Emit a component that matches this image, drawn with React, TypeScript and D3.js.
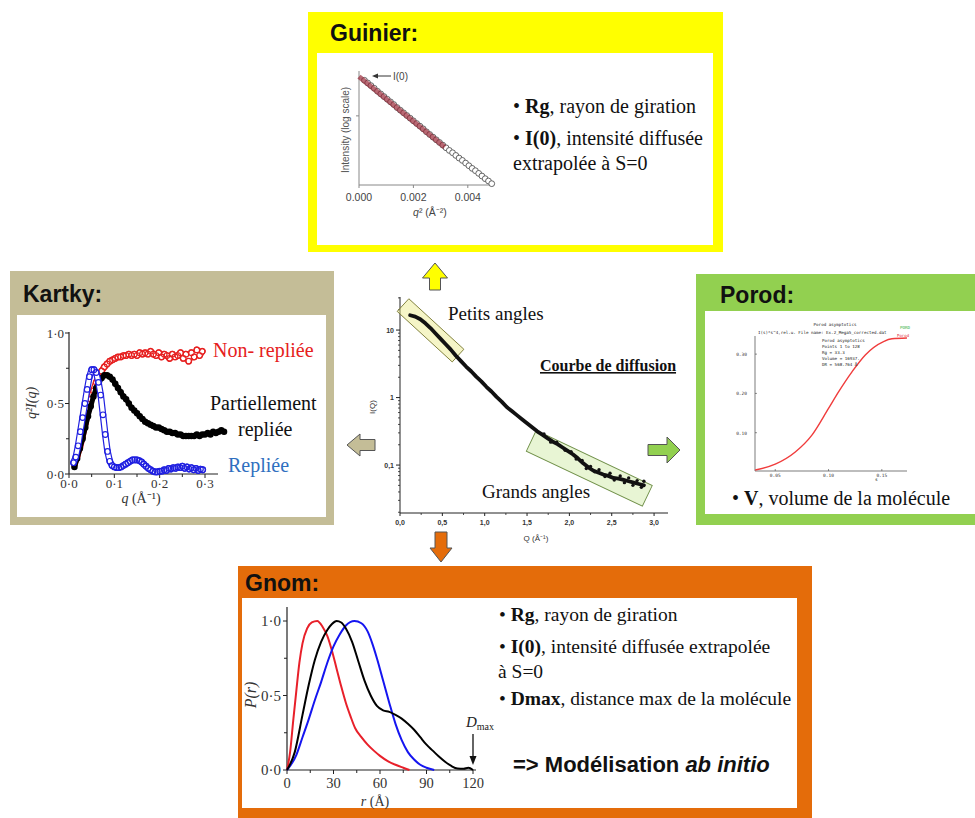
import React from 'react';
import * as d3 from 'd3';

// ---------------- DATA ----------------
// Guinier plot (q^2 vs ln I)
const guinierQ2 = [0.0002,0.00032,0.00044,0.00056,0.00068,0.0008,0.00092,0.00104,0.00116,0.00128,0.0014,0.00152,0.00164,0.00176,0.00188,0.002,0.00212,0.00224,0.00236,0.00248,0.0026,0.00272,0.00284,0.00296,0.00308,0.0032,0.00332,0.00344,0.00356,0.00368,0.0038,0.00392,0.00404,0.00416,0.00428,0.0044,0.00452,0.00464,0.00476,0.00488];
const guinierLnI = [-0.15,-0.23,-0.31,-0.39,-0.48,-0.56,-0.64,-0.72,-0.80,-0.88,-0.97,-1.05,-1.13,-1.21,-1.29,-1.37,-1.45,-1.53,-1.61,-1.70,-1.78,-1.86,-1.94,-2.02,-2.10,-2.18,-2.26,-2.33,-2.41,-2.49,-2.56,-2.64,-2.72,-2.80,-2.87,-2.95,-3.03,-3.11,-3.18,-3.26];
const guinierFitQ2 = [0, 0.00315];
const guinierFitLnI = [-0.04, -2.16];
const guinierXTicks = [0, 0.002, 0.004];
const guinierXTickLabels = ['0.000', '0.002', '0.004'];
const guinierYTicks = [-1.22];

// Kratky plot
const kratkyRedQ = d3.range(0.012, 0.2965, 0.006);
const kratkyRed = [0.07,0.13,0.19,0.27,0.36,0.45,0.53,0.59,0.65,0.69,0.73,0.76,0.78,0.80,0.81,0.82,0.83,0.83,0.84,0.84,0.85,0.84,0.85,0.84,0.86,0.85,0.86,0.85,0.87,0.85,0.84,0.86,0.83,0.85,0.84,0.82,0.85,0.83,0.84,0.86,0.82,0.85,0.80,0.86,0.83,0.88,0.84,0.87];
const kratkyBlackQ = d3.range(0.012, 0.3425, 0.006);
const kratkyBlack = [0.05,0.11,0.18,0.25,0.33,0.41,0.48,0.55,0.61,0.65,0.68,0.70,0.70,0.69,0.67,0.64,0.61,0.58,0.55,0.53,0.50,0.47,0.45,0.43,0.41,0.39,0.37,0.36,0.35,0.34,0.33,0.33,0.32,0.31,0.30,0.30,0.29,0.29,0.28,0.28,0.27,0.27,0.27,0.27,0.27,0.28,0.27,0.28,0.28,0.29,0.28,0.30,0.29,0.30,0.31,0.30];
const kratkyBlueQ = d3.range(0.010, 0.2955, 0.005);
const kratkyBlue = [0.08,0.12,0.20,0.30,0.40,0.50,0.60,0.69,0.74,0.74,0.72,0.65,0.56,0.42,0.28,0.16,0.09,0.06,0.05,0.045,0.045,0.05,0.06,0.07,0.08,0.09,0.10,0.10,0.10,0.095,0.085,0.07,0.055,0.04,0.03,0.02,0.015,0.015,0.02,0.02,0.03,0.025,0.04,0.035,0.045,0.04,0.05,0.045,0.055,0.04,0.05,0.035,0.045,0.03,0.04,0.025,0.035,0.03];
const kratkyXTicks = [0, 0.1, 0.2, 0.3];
const kratkyXTickLabels = ['0·0', '0·1', '0·2', '0·3'];
const kratkyYTicks = [0, 0.5, 1];
const kratkyYTickLabels = ['0·0', '0·5', '1·0'];

// Scattering curve (center)
const curveQ = d3.range(0.12, 2.881, 0.06);
const curveLogI = [1.22,1.20,1.16,1.10,1.03,0.95,0.87,0.79,0.71,0.62,0.54,0.46,0.39,0.31,0.24,0.16,0.09,0.01,-0.06,-0.14,-0.20,-0.26,-0.32,-0.38,-0.44,-0.50,-0.55,-0.60,-0.65,-0.69,-0.74,-0.79,-0.84,-0.90,-0.97,-1.03,-1.08,-1.11,-1.14,-1.16,-1.19,-1.20,-1.22,-1.24,-1.26,-1.28,-1.30];
const tailQ = [1.70,1.78,1.85,1.95,2.02,2.08,2.15,2.20,2.25,2.30,2.35,2.42,2.48,2.53,2.60,2.65,2.70,2.75,2.80,2.85,2.88];
const tailLogI = [-0.54,-0.66,-0.66,-0.78,-0.80,-0.91,-0.93,-1.05,-1.02,-1.10,-1.07,-1.17,-1.12,-1.22,-1.16,-1.26,-1.19,-1.30,-1.23,-1.33,-1.24];
const curveXTicks = [0, 0.5, 1, 1.5, 2, 2.5, 3];
const curveXTickLabels = ['0,0', '0,5', '1,0', '1,5', '2,0', '2,5', '3,0'];
const curveYTicks = [0.1, 1, 10];
const curveYTickLabels = ['0,1', '1', '10'];

// Porod
const porodS = [0.0312, 0.05, 0.0688, 0.0844, 0.1, 0.1094, 0.122, 0.1345, 0.1516, 0.1595, 0.1736];
const porodV = [0.005, 0.02, 0.051, 0.094, 0.162, 0.204, 0.255, 0.298, 0.332, 0.339, 0.341];
const porodXTicks = [0.05, 0.10, 0.15];
const porodXTickLabels = ['0.05', '0.10', '0.15'];
const porodYTicks = [0.10, 0.20, 0.30];
const porodYTickLabels = ['0.10', '0.20', '0.30'];

// GNOM P(r)
const gnomRedR = [0,2,4,6,8,10,13,16,19.5,23,26,29,32,35,38,41,44,48,52,56,60,65,70,75,79];
const gnomRedP = [0,0.12,0.33,0.53,0.72,0.85,0.95,0.99,1.0,0.96,0.9,0.8,0.68,0.56,0.45,0.36,0.28,0.22,0.17,0.13,0.095,0.06,0.035,0.015,0];
const gnomBlackR = [0,5,10,14,18,22,26,29,32,35,38,42,46,50,54,58,62,66,70,74,78,82,86,90,94,98,102,106,110,114,117,120];
const gnomBlackP = [0,0.12,0.37,0.57,0.74,0.86,0.94,0.98,1.0,0.99,0.95,0.86,0.73,0.60,0.50,0.43,0.40,0.39,0.37,0.345,0.31,0.27,0.22,0.17,0.13,0.09,0.055,0.027,0.01,0.008,0.015,0];
const gnomBlueR = [0,6,10,14,18,22,26,30,34,38,43.5,48,52,55,58,62,66,70,74,78,82,86,90,95];
const gnomBlueP = [0,0.1,0.22,0.34,0.47,0.59,0.72,0.83,0.91,0.97,1.0,0.985,0.93,0.85,0.75,0.6,0.45,0.31,0.2,0.12,0.07,0.035,0.015,0];
const gnomXTicks = [0, 30, 60, 90, 120];
const gnomXTickLabels = ['0', '30', '60', '90', '120'];
const gnomYTicks = [0, 0.5, 1];
const gnomYTickLabels = ['0·0', '0·5', '1·0'];

// ---------------- STYLE ----------------
const serif = '"Liberation Serif","Times New Roman",serif';
const sans = '"Liberation Sans",Arial,sans-serif';
const YELLOW = '#ffff00';
const TAN = '#c4bd97';
const GREEN = '#92d050';
const ORANGE = '#e46c0a';

function blockArrow(tx: number, ty: number, dir: string, len: number, headLen: number, headW: number, shaftW: number) {
  const local: [number, number][] = [
    [0, 0], [headW / 2, headLen], [shaftW / 2, headLen], [shaftW / 2, len],
    [-shaftW / 2, len], [-shaftW / 2, headLen], [-headW / 2, headLen],
  ];
  const pts = local.map(([lx, ly]) => {
    if (dir === 'up') return [tx + lx, ty + ly];
    if (dir === 'down') return [tx + lx, ty - ly];
    if (dir === 'left') return [tx + ly, ty + lx];
    return [tx - ly, ty + lx];
  });
  return 'M' + pts.map(p => p.join(',')).join('L') + 'Z';
}

function Guinier() {
  const x = d3.scaleLinear().domain([0, 0.005]).range([359, 495]);
  const y = d3.scaleLinear().domain([-3.3, 0.1]).range([185, 72]);
  const fit = d3.line<number>().x((d, i) => x(guinierFitQ2[i])).y(d => y(d));
  return (
    <g>
      <rect x={308} y={12} width={415} height={240} fill={YELLOW} />
      <rect x={317} y={53} width={396} height={192} fill="#fff" />
      <text x={330} y={41} fontFamily={sans} fontWeight="bold" fontSize={23} fill="#111">Guinier:</text>
      <line x1={x(0)} x2={x(0)} y1={71} y2={185} stroke="#888" />
      <line x1={x(0)} x2={493} y1={185} y2={185} stroke="#888" />
      {guinierYTicks.map((t, i) => <line key={i} x1={x(0) - 3} x2={x(0)} y1={y(t)} y2={y(t)} stroke="#888" />)}
      {guinierXTicks.map((t, i) => (
        <g key={i}>
          <line x1={x(t)} x2={x(t)} y1={185} y2={188} stroke="#888" />
          <text x={x(t)} y={201} textAnchor="middle" fontFamily={sans} fontSize={10.5} fill="#444">{guinierXTickLabels[i]}</text>
        </g>
      ))}
      <text x={430} y={216} textAnchor="middle" fontFamily={sans} fontSize={10.5} fill="#444">
        <tspan fontStyle="italic">q</tspan><tspan>² (Å⁻²)</tspan>
      </text>
      <text transform="translate(349,130) rotate(-90)" textAnchor="middle" fontFamily={sans} fontSize={10} fill="#555">Intensity (log scale)</text>
      {guinierQ2.map((q, i) => (
        <circle key={i} cx={x(q)} cy={y(guinierLnI[i])} r={2.9} fill="#fff" stroke="#555" strokeWidth={0.9} />
      ))}
      <path d={fit(guinierFitLnI) || ''} stroke="#9a2838" strokeWidth={5} strokeOpacity={0.7} fill="none" />
      <line x1={391} x2={376} y1={76} y2={76} stroke="#333" strokeWidth={1} />
      <path d="M372,76 L378,73.5 L378,78.5 Z" fill="#333" />
      <text x={393} y={80} fontFamily={sans} fontSize={10} fill="#444">I(0)</text>
      <text x={513} y={113} fontFamily={serif} fontSize={20} fill="#111">
        <tspan>• </tspan><tspan fontWeight="bold">Rg</tspan><tspan>, rayon de giration</tspan>
      </text>
      <text x={513} y={145} fontFamily={serif} fontSize={20} fill="#111">
        <tspan>• </tspan><tspan fontWeight="bold">I(0)</tspan><tspan>, intensité diffusée</tspan>
      </text>
      <text x={513} y={170} fontFamily={serif} fontSize={20} fill="#111">extrapolée à S=0</text>
    </g>
  );
}

function Kratky() {
  const x = d3.scaleLinear().domain([0, 0.3]).range([69, 205]);
  const y = d3.scaleLinear().domain([0, 1]).range([474, 333]);
  const mk = (qs: number[]) => d3.line<number>().x((d, i) => x(qs[i])).y(d => y(d));
  const tube = (qs: number[], vals: number[], color: string, key: string) => (
    <g key={key}>
      <path d={mk(qs)(vals) || ''} stroke={color} strokeWidth={6.6} fill="none" strokeLinejoin="round" strokeLinecap="round" />
      <path d={mk(qs)(vals) || ''} stroke="#fff" strokeWidth={4.2} fill="none" strokeLinejoin="round" strokeLinecap="round" />
      {vals.map((v, i) => <circle key={i} cx={x(qs[i])} cy={y(v)} r={2.8} fill="none" stroke={color} strokeWidth={1.2} />)}
    </g>
  );
  return (
    <g>
      <rect x={10} y={271} width={324} height={254} fill={TAN} />
      <rect x={17} y={315} width={309} height={202} fill="#fff" />
      <text x={23} y={302} fontFamily={sans} fontWeight="bold" fontSize={23} fill="#111">Kartky:</text>
      <line x1={69} x2={69} y1={332} y2={474} stroke="#222" strokeWidth={1.2} />
      <line x1={69} x2={218} y1={474} y2={474} stroke="#222" strokeWidth={1.2} />
      {[0.25, 0.75].map((t, i) => <line key={'ym' + i} x1={66} x2={69} y1={y(t)} y2={y(t)} stroke="#222" />)}
      {kratkyYTicks.map((t, i) => (
        <g key={'y' + i}>
          <line x1={65} x2={69} y1={y(t)} y2={y(t)} stroke="#222" />
          <text x={64} y={y(t) + 4.5} textAnchor="end" fontFamily={serif} fontSize={13} fill="#333">{kratkyYTickLabels[i]}</text>
        </g>
      ))}
      {[0.05, 0.15, 0.25].map((t, i) => <line key={'xm' + i} x1={x(t)} x2={x(t)} y1={474} y2={477} stroke="#222" />)}
      {kratkyXTicks.map((t, i) => (
        <g key={'x' + i}>
          <line x1={x(t)} x2={x(t)} y1={474} y2={478} stroke="#222" />
          <text x={x(t)} y={488} textAnchor="middle" fontFamily={serif} fontSize={13} fill="#333">{kratkyXTickLabels[i]}</text>
        </g>
      ))}
      <text x={141} y={503} textAnchor="middle" fontFamily={serif} fontSize={14} fill="#333">
        <tspan fontStyle="italic">q</tspan><tspan> (Å⁻¹)</tspan>
      </text>
      <text transform="translate(36,403) rotate(-90)" textAnchor="middle" fontFamily={serif} fontSize={14} fontStyle="italic" fill="#333">q²I(q)</text>
      {tube(kratkyRedQ, kratkyRed, '#e62020', 'red')}
      <path d={mk(kratkyBlackQ)(kratkyBlack) || ''} stroke="#000" strokeWidth={5} fill="none" strokeLinejoin="round" strokeLinecap="round" />
      {kratkyBlack.map((v, i) => <circle key={'k' + i} cx={x(kratkyBlackQ[i])} cy={y(v)} r={2.5} fill="none" stroke="#000" strokeWidth={1.5} />)}
      {tube(kratkyBlueQ, kratkyBlue, '#2020e0', 'blue')}
      <text x={213} y={357} fontFamily={serif} fontSize={20} fill="#e62020">Non- repliée</text>
      <text x={210} y={410} fontFamily={serif} fontSize={20} fill="#111">Partiellement</text>
      <text x={238} y={436} fontFamily={serif} fontSize={20} fill="#111">repliée</text>
      <text x={228} y={472} fontFamily={serif} fontSize={20} fill="#2f6fc0">Repliée</text>
    </g>
  );
}

function Center() {
  const x = d3.scaleLinear().domain([0, 3.2]).range([400, 671]);
  const y = d3.scaleLog().domain([0.0195, 30.9]).range([513, 297]);
  const line = d3.line<number>().x((d, i) => x(curveQ[i])).y(d => y(Math.pow(10, d)));
  const minorY = [0.02,0.03,0.04,0.05,0.06,0.07,0.08,0.09,0.2,0.3,0.4,0.5,0.6,0.7,0.8,0.9,2,3,4,5,6,7,8,9,20,30];
  const minorX = [0.25, 0.75, 1.25, 1.75, 2.25, 2.75];
  const petitA = Math.atan2(50.5, 55) * 180 / Math.PI;
  const grandA = Math.atan2(55, 116) * 180 / Math.PI;
  return (
    <g>
      <line x1={400} x2={400} y1={297} y2={513} stroke="#222" strokeWidth={1} />
      <line x1={400} x2={668} y1={513} y2={513} stroke="#222" strokeWidth={1} />
      {minorY.map((t, i) => <line key={'my' + i} x1={398} x2={400} y1={y(t)} y2={y(t)} stroke="#222" strokeWidth={0.8} />)}
      {curveYTicks.map((t, i) => (
        <g key={'y' + i}>
          <line x1={396} x2={400} y1={y(t)} y2={y(t)} stroke="#222" />
          <text x={394} y={y(t) + 2.5} textAnchor="end" fontFamily={sans} fontSize={7} fontWeight="bold" fill="#333">{curveYTickLabels[i]}</text>
        </g>
      ))}
      {minorX.map((t, i) => <line key={'mx' + i} x1={x(t)} x2={x(t)} y1={513} y2={515} stroke="#222" strokeWidth={0.8} />)}
      {curveXTicks.map((t, i) => (
        <g key={'x' + i}>
          <line x1={x(t)} x2={x(t)} y1={513} y2={516} stroke="#222" />
          <text x={x(t)} y={525} textAnchor="middle" fontFamily={sans} fontSize={7} fontWeight="bold" fill="#333">{curveXTickLabels[i]}</text>
        </g>
      ))}
      <text x={536} y={541} textAnchor="middle" fontFamily={sans} fontSize={8} fill="#333">Q (Å⁻¹)</text>
      <text transform="translate(375,407) rotate(-90)" textAnchor="middle" fontFamily={sans} fontSize={8} fill="#333">I(Q)</text>
      <rect x={-37.3} y={-8.6} width={74.7} height={17.2} fill="rgba(232,232,130,0.45)" stroke="#7d7d3a" strokeWidth={0.9}
        transform={`translate(430.5,330.3) rotate(${petitA})`} />
      <rect x={-64.2} y={-11.5} width={128.4} height={23} fill="rgba(205,232,160,0.45)" stroke="#6f8f48" strokeWidth={0.9}
        transform={`translate(589.3,468.3) rotate(${grandA})`} />
      <path d={line(curveLogI) || ''} stroke="#111" strokeWidth={3.8} fill="none" strokeLinecap="round" strokeLinejoin="round" />
      {tailLogI.map((v, i) => <circle key={'t' + i} cx={x(tailQ[i])} cy={y(Math.pow(10, v))} r={1.7} fill="#111" />)}
      <text x={448} y={320} fontFamily={serif} fontSize={19} fill="#111">Petits angles</text>
      <text x={482} y={498} fontFamily={serif} fontSize={19} fill="#111">Grands angles</text>
      <text x={540} y={371} fontFamily={serif} fontSize={16} fontWeight="bold" fill="#111" style={{ textDecoration: 'underline' }}>Courbe de diffusion</text>
    </g>
  );
}

function Porod() {
  const x = d3.scaleLinear().domain([0.031, 0.174]).range([755, 907.4]);
  const y = d3.scaleLinear().domain([0, 0.34]).range([472, 338.4]);
  const line = d3.line<number>().x((d, i) => x(porodS[i])).y(d => y(d)).curve(d3.curveMonotoneX);
  const tiny = '"DejaVu Sans Mono",monospace';
  return (
    <g>
      <rect x={696} y={274} width={290} height={251} fill={GREEN} />
      <rect x={705} y={311} width={280} height={203} fill="#fff" />
      <text x={720} y={303} fontFamily={sans} fontWeight="bold" fontSize={23} fill="#111">Porod:</text>
      <line x1={755} x2={755} y1={336} y2={471} stroke="#444" strokeWidth={0.7} />
      <line x1={755} x2={907} y1={471} y2={471} stroke="#444" strokeWidth={0.7} />
      {porodYTicks.map((t, i) => (
        <g key={'y' + i}>
          <line x1={755} x2={757} y1={y(t)} y2={y(t)} stroke="#444" strokeWidth={0.6} />
          <text x={747} y={y(t) + 2} textAnchor="end" fontFamily={tiny} fontSize={4.5} fill="#333">{porodYTickLabels[i]}</text>
        </g>
      ))}
      {porodXTicks.map((t, i) => (
        <g key={'x' + i}>
          <line x1={x(t)} x2={x(t)} y1={469} y2={471} stroke="#444" strokeWidth={0.6} />
          <text x={x(t)} y={477} textAnchor="middle" fontFamily={tiny} fontSize={4.5} fill="#333">{porodXTickLabels[i]}</text>
        </g>
      ))}
      <text x={875} y={481} fontFamily={tiny} fontSize={4.5} fill="#333">s</text>
      <path d={line(porodV) || ''} stroke="#f03c3c" strokeWidth={1.4} fill="none" />
      <text x={835} y={326} textAnchor="middle" fontFamily={tiny} fontSize={4.2} fill="#222">Porod asymptotics</text>
      <text x={758} y={334} fontFamily={tiny} fontSize={4.2} fill="#222">I(s)*s^4,rel.u.  File name: Ex.2_Mega5_corrected.dat</text>
      <text x={822} y={342} fontFamily={tiny} fontSize={4.2} fill="#222">Porod asymptotics</text>
      <text x={822} y={348} fontFamily={tiny} fontSize={4.2} fill="#222">Points 1 to 128</text>
      <text x={822} y={354} fontFamily={tiny} fontSize={4.2} fill="#222">Rg      = 33.3</text>
      <text x={822} y={360} fontFamily={tiny} fontSize={4.2} fill="#222">Volume  = 16937.</text>
      <text x={822} y={366} fontFamily={tiny} fontSize={4.2} fill="#222">DR      = 568.764 Å</text>
      <text x={900} y={329} fontFamily={tiny} fontSize={4.2} fill="#30b040">PORD</text>
      <text x={897} y={337} fontFamily={tiny} fontSize={4} fill="#e03040">Porod</text>
      <text x={732} y={505} fontFamily={serif} fontSize={20} fill="#111">
        <tspan>• </tspan><tspan fontWeight="bold">V</tspan><tspan>, volume de la molécule</tspan>
      </text>
    </g>
  );
}

function Gnom() {
  const x = d3.scaleLinear().domain([0, 120]).range([287, 473]);
  const y = d3.scaleLinear().domain([0, 1]).range([770, 621]);
  const mk = (rs: number[]) => d3.line<number>().x((d, i) => x(rs[i])).y(d => y(d)).curve(d3.curveMonotoneX);
  return (
    <g>
      <rect x={238} y={566} width={574} height={252} fill={ORANGE} />
      <rect x={242} y={598} width={555} height={210} fill="#fff" />
      <text x={245} y={591} fontFamily={sans} fontWeight="bold" fontSize={23} fill="#111">Gnom:</text>
      <line x1={287} x2={287} y1={607} y2={770} stroke="#222" strokeWidth={1.2} />
      <line x1={287} x2={476} y1={770} y2={770} stroke="#222" strokeWidth={1.2} />
      {[0.25, 0.75].map((t, i) => <line key={'ym' + i} x1={284} x2={287} y1={y(t)} y2={y(t)} stroke="#222" />)}
      {gnomYTicks.map((t, i) => (
        <g key={'y' + i}>
          <line x1={283} x2={287} y1={y(t)} y2={y(t)} stroke="#222" />
          <text x={281} y={y(t) + 5} textAnchor="end" fontFamily={serif} fontSize={15} fill="#333">{gnomYTickLabels[i]}</text>
        </g>
      ))}
      {[15, 45, 75, 105].map((t, i) => <line key={'xm' + i} x1={x(t)} x2={x(t)} y1={770} y2={773} stroke="#222" />)}
      {gnomXTicks.map((t, i) => (
        <g key={'x' + i}>
          <line x1={x(t)} x2={x(t)} y1={770} y2={774} stroke="#222" />
          <text x={x(t)} y={788} textAnchor="middle" fontFamily={serif} fontSize={14.5} fill="#333">{gnomXTickLabels[i]}</text>
        </g>
      ))}
      <text x={375} y={806} textAnchor="middle" fontFamily={serif} fontSize={14} fill="#333">
        <tspan fontStyle="italic">r</tspan><tspan> (Å)</tspan>
      </text>
      <text transform="translate(256,695) rotate(-90)" textAnchor="middle" fontFamily={serif} fontSize={16} fontStyle="italic" fill="#333">P(r)</text>
      <path d={mk(gnomRedR)(gnomRedP) || ''} stroke="#e8202a" strokeWidth={2} fill="none" />
      <path d={mk(gnomBlueR)(gnomBlueP) || ''} stroke="#1515f0" strokeWidth={2} fill="none" />
      <path d={mk(gnomBlackR)(gnomBlackP) || ''} stroke="#000" strokeWidth={2} fill="none" />
      <text x={466} y={727} fontFamily={serif} fontSize={15} fill="#222">
        <tspan fontStyle="italic">D</tspan><tspan fontSize={10} dy={3}>max</tspan>
      </text>
      <line x1={473} x2={473} y1={734} y2={758} stroke="#111" strokeWidth={1.3} />
      <path d="M473,765 L469.5,756 L476.5,756 Z" fill="#111" />
      <text x={499} y={621} fontFamily={serif} fontSize={19.5} fill="#111">
        <tspan>• </tspan><tspan fontWeight="bold">Rg</tspan><tspan>, rayon de giration</tspan>
      </text>
      <text x={499} y={653} fontFamily={serif} fontSize={19.5} fill="#111">
        <tspan>• </tspan><tspan fontWeight="bold">I(0)</tspan><tspan>, intensité diffusée extrapolée</tspan>
      </text>
      <text x={498} y={678} fontFamily={serif} fontSize={19.5} fill="#111">à S=0</text>
      <text x={499} y={705} fontFamily={serif} fontSize={19.5} fill="#111">
        <tspan>• </tspan><tspan fontWeight="bold">Dmax</tspan><tspan>, distance max de la  molécule</tspan>
      </text>
      <text x={513} y={772} fontFamily={sans} fontSize={22} fontWeight="bold" fill="#111">
        <tspan>{'=> Modélisation '}</tspan><tspan fontStyle="italic">ab initio</tspan>
      </text>
    </g>
  );
}

export default function App() {
  return (
    <svg width={975} height={818} viewBox="0 0 975 818"
      style={{ position: 'absolute', left: 0, top: 0, display: 'block', background: '#fff' }}>
      <rect x={0} y={0} width={975} height={818} fill="#fff" />
      <Guinier />
      <Kratky />
      <Porod />
      <Gnom />
      <Center />
      <path d={blockArrow(435, 263, 'up', 27, 15, 25, 11)} fill={YELLOW} stroke="#555" strokeWidth={1} />
      <path d={blockArrow(347, 445, 'left', 28, 13, 22, 11)} fill={TAN} stroke="#555" strokeWidth={1} />
      <path d={blockArrow(680, 450, 'right', 32, 13, 26, 11)} fill={GREEN} stroke="#555" strokeWidth={1} />
      <path d={blockArrow(441, 562, 'down', 30, 14, 22, 12)} fill={ORANGE} stroke="#555" strokeWidth={1} />
    </svg>
  );
}
